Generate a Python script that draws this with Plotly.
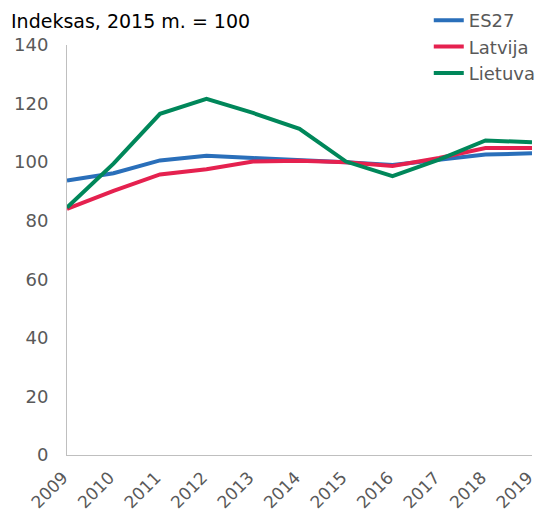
import plotly.graph_objects as go

years = ["2009", "2010", "2011", "2012", "2013", "2014", "2015", "2016", "2017", "2018", "2019"]
es27 = [93.7, 96.2, 100.6, 102.2, 101.4, 100.8, 100.0, 99.0, 100.8, 102.6, 103.0]
latvija = [84.0, 90.2, 95.8, 97.6, 100.2, 100.5, 100.0, 98.7, 101.4, 104.8, 104.8]
lietuva = [84.5, 99.5, 116.5, 121.6, 116.8, 111.4, 100.2, 95.2, 100.9, 107.4, 106.8]
y_ticks = [0, 20, 40, 60, 80, 100, 120, 140]

series = [("ES27", es27, "#2a6fba"), ("Latvija", latvija, "#e5214f"), ("Lietuva", lietuva, "#00875a")]

fig = go.Figure()
for name, vals, col in series:
    fig.add_trace(go.Scatter(x=years, y=vals, name=name, mode="lines",
                             line=dict(color=col, width=4)))

font_family = "Verdana, DejaVu Sans, sans-serif"
fig.update_layout(
    width=539, height=514,
    margin=dict(l=67, r=7, t=45, b=59, autoexpand=False),
    paper_bgcolor="white", plot_bgcolor="white",
    font=dict(family=font_family, size=18, color="#595959"),
    showlegend=True,
    legend=dict(x=0.778, y=1.105, xanchor="left", yanchor="top",
                font=dict(size=18, color="#595959"), bgcolor="rgba(0,0,0,0)",
                tracegroupgap=0),
    title=dict(text="Indeksas, 2015 m. = 100", x=11 / 539, xanchor="left", xref="container",
               y=1 - 21 / 514, yanchor="middle", yref="container",
               font=dict(size=19, color="#000000", family=font_family)),
    xaxis=dict(type="category", range=[0, 10], showgrid=False, showline=True,
               linecolor="#bfbfbf", linewidth=1, tickangle=-45, ticks="",
               ticklabelstandoff=5, ticklabelshift=-4,
               tickfont=dict(size=17, color="#595959"), zeroline=False),
    yaxis=dict(range=[0, 140], tickvals=y_ticks, showgrid=False, showline=True,
               linecolor="#bfbfbf", linewidth=1, ticks="", zeroline=False,
               ticklabelstandoff=14,
               tickfont=dict(size=18, color="#595959")),
)
fig.write_html("out.html", config={"displayModeBar": False},
               post_script="document.body.style.margin='0';document.body.style.overflow='hidden';")
